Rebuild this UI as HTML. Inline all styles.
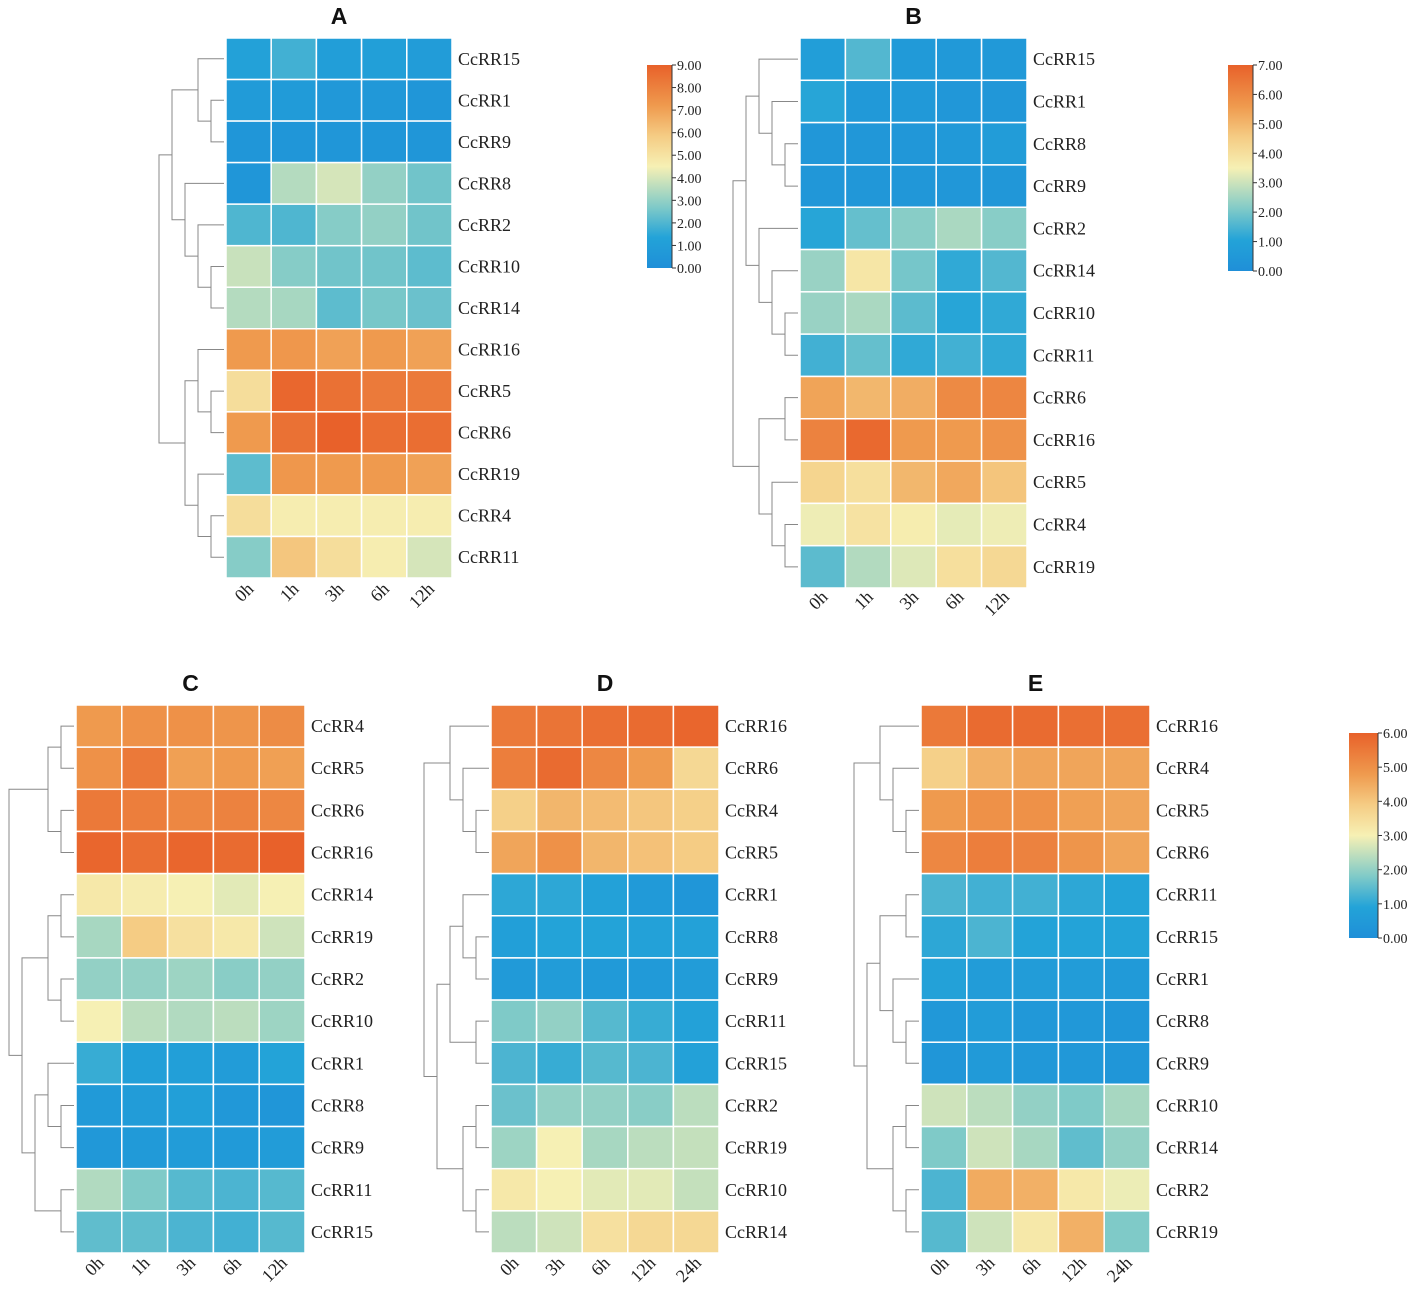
<!DOCTYPE html>
<html><head><meta charset="utf-8">
<style>
html,body{margin:0;padding:0;background:#fff;}
svg{display:block;}
.lbl{font-family:"Liberation Serif",serif;font-size:18px;fill:#222;}
.tick{font-family:"Liberation Serif",serif;font-size:14px;fill:#222;}
.title{font-family:"Liberation Sans",sans-serif;font-size:23px;font-weight:bold;fill:#111;}
</style></head>
<body>
<svg id="fig" width="1417" height="1294" viewBox="0 0 1417 1294" xmlns="http://www.w3.org/2000/svg"></svg>
<script>
// ---- data ----
const rowsA = ["CcRR15","CcRR1","CcRR9","CcRR8","CcRR2","CcRR10","CcRR14","CcRR16","CcRR5","CcRR6","CcRR19","CcRR4","CcRR11"];
const colsA = ["0h","1h","3h","6h","12h"];
const valsA = [[1.2,1.8,1.0,1.1,0.9],[0.8,0.8,0.6,0.6,0.5],[0.5,0.5,0.5,0.5,0.5],[0.5,3.5,4.0,3.0,2.5],[2.0,2.0,2.8,3.0,2.5],[3.8,2.8,2.5,2.5,2.2],[3.5,3.3,2.2,2.6,2.4],[7.2,7.3,7.0,7.2,7.0],[5.2,8.8,8.5,8.2,8.2],[7.2,8.5,9.0,8.6,8.6],[2.2,7.3,7.2,7.2,7.0],[5.2,4.6,4.6,4.6,4.6],[2.8,6.0,5.2,4.6,4.0]];
const ticksA = ["9.00","8.00","7.00","6.00","5.00","4.00","3.00","2.00","1.00","0.00"];

const rowsB = ["CcRR15","CcRR1","CcRR8","CcRR9","CcRR2","CcRR14","CcRR10","CcRR11","CcRR6","CcRR16","CcRR5","CcRR4","CcRR19"];
const colsB = ["0h","1h","3h","6h","12h"];
const valsB = [[0.8,1.6,0.6,0.5,0.5],[1.1,0.5,0.5,0.4,0.4],[0.4,0.4,0.4,0.5,0.7],[0.4,0.4,0.4,0.4,0.4],[1.1,1.8,2.2,2.6,2.2],[2.4,3.8,2.0,1.2,1.6],[2.4,2.6,1.7,1.1,1.2],[1.4,1.8,1.2,1.4,1.2],[5.4,5.0,5.2,6.0,6.1],[6.2,6.8,5.6,5.6,5.8],[4.3,4.0,5.0,5.3,4.7],[3.4,3.9,3.6,3.3,3.4],[1.7,2.7,3.2,4.0,4.2]];
const ticksB = ["7.00","6.00","5.00","4.00","3.00","2.00","1.00","0.00"];

const rowsC = ["CcRR4","CcRR5","CcRR6","CcRR16","CcRR14","CcRR19","CcRR2","CcRR10","CcRR1","CcRR8","CcRR9","CcRR11","CcRR15"];
const colsC = ["0h","1h","3h","6h","12h"];
const valsC = [[4.8,5.0,5.0,4.9,5.1],[5.0,5.5,4.7,4.8,4.7],[5.5,5.4,5.2,5.3,5.2],[5.9,5.7,5.9,5.8,6.0],[3.2,3.1,3.0,2.8,3.0],[2.2,3.9,3.4,3.2,2.6],[2.0,2.0,2.1,1.9,2.0],[3.0,2.4,2.3,2.4,2.1],[1.1,0.7,0.7,0.6,0.9],[0.5,0.6,0.7,0.4,0.3],[0.4,0.5,0.6,0.5,0.6],[2.3,1.8,1.4,1.3,1.4],[1.5,1.5,1.3,1.2,1.4]];

const rowsD = ["CcRR16","CcRR6","CcRR4","CcRR5","CcRR1","CcRR8","CcRR9","CcRR11","CcRR15","CcRR2","CcRR19","CcRR10","CcRR14"];
const colsD = ["0h","3h","6h","12h","24h"];
const valsD = [[5.5,5.6,5.7,5.8,5.9],[5.4,5.8,5.2,4.8,3.6],[3.8,4.3,4.2,4.0,3.8],[4.6,5.0,4.3,4.1,3.9],[1.0,1.0,0.8,0.5,0.3],[0.7,0.9,0.9,0.8,0.8],[0.5,0.6,0.5,0.5,0.6],[1.8,2.0,1.4,1.1,0.8],[1.3,1.1,1.4,1.3,0.8],[1.6,2.0,2.0,1.9,2.4],[2.1,3.0,2.2,2.4,2.5],[3.2,3.0,2.8,2.8,2.5],[2.4,2.6,3.4,3.6,3.6]];

const rowsE = ["CcRR16","CcRR4","CcRR5","CcRR6","CcRR11","CcRR15","CcRR1","CcRR8","CcRR9","CcRR10","CcRR14","CcRR2","CcRR19"];
const colsE = ["0h","3h","6h","12h","24h"];
const valsE = [[5.5,5.8,5.8,5.7,5.7],[3.8,4.4,4.6,4.6,4.6],[4.8,5.0,5.0,4.7,4.6],[5.2,5.4,5.3,4.9,4.6],[1.3,1.2,1.2,1.0,0.9],[1.0,1.3,0.9,0.9,0.9],[0.8,0.6,0.6,0.6,0.5],[0.4,0.6,0.4,0.4,0.3],[0.3,0.5,0.4,0.4,0.3],[2.6,2.4,2.0,1.8,2.2],[1.8,2.6,2.2,1.5,2.0],[1.3,4.5,4.4,3.2,2.9],[1.4,2.6,3.2,4.4,1.8]];
const ticksCDE = ["6.00","5.00","4.00","3.00","2.00","1.00","0.00"];

// dendrogram structures (row indices)
const treeA = [[[0,[1,2]],[3,[4,[5,6]]]],[[7,[8,9]],[10,[11,12]]]];
const treeB = [[[0,[1,[2,3]]],[4,[5,[6,7]]]],[[8,9],[10,[11,12]]]];
const treeC = [[[0,1],[2,3]],[[[4,5],[6,7]],[[8,[9,10]],[11,12]]]];
const treeD = [[0,[1,[2,3]]],[[[4,[5,6]],[7,8]],[[9,10],[11,12]]]];
const treeE = [[0,[1,[2,3]]],[[[4,5],[6,[7,8]]],[[9,10],[11,12]]]];

// ---- drawing ----
const NS="http://www.w3.org/2000/svg";
const svg=document.getElementById('fig');
function mk(tag,attrs,parent){const e=document.createElementNS(NS,tag);for(const k in attrs)e.setAttribute(k,attrs[k]);(parent||svg).appendChild(e);return e;}
const stops=[[0,[31,143,216]],[0.15,[35,163,216]],[0.3,[127,202,200]],[0.5,[246,240,180]],[0.65,[245,204,132]],[0.8,[239,154,78]],[1,[232,97,42]]];
function cmap(t){t=Math.max(0,Math.min(1,t));for(let i=1;i<stops.length;i++){if(t<=stops[i][0]){const a=stops[i-1],b=stops[i];const f=(t-a[0])/(b[0]-a[0]);const c=a[1].map((v,j)=>Math.round(v+(b[1][j]-v)*f));return `rgb(${c[0]},${c[1]},${c[2]})`;}}return 'rgb(232,97,42)';}

function panel(id,title,rows,cols,vals,vmax,x0,y0,w,h,tree,colY){
  const g=mk('g',{});
  
  
  const cw=w/cols.length, rh=h/rows.length;
  const t=mk('text',{x:x0+w/2,y:y0-14,'text-anchor':'middle',class:'title'},g);t.textContent=title;
  
  
  rows.forEach((r,i)=>{
    cols.forEach((c,j)=>{
      const rc=mk('rect',{x:x0+j*cw,y:y0+i*rh,width:cw,height:rh,fill:cmap(vals[i][j]/vmax),stroke:'#fff','stroke-width':1.5},g);
      
      
    });
    const tx=mk('text',{x:x0+w+6,y:y0+(i+0.5)*rh+6,class:'lbl'},g);tx.textContent=r;
    
    
  });
  cols.forEach((c,j)=>{
    const cx=x0+(j+0.5)*cw;
    const tx=mk('text',{x:cx+6,y:colY,class:'lbl','text-anchor':'end',transform:`rotate(-45 ${cx+6} ${colY})`},g);tx.textContent=c;
    
    
  });
  // dendrogram
  const step=13;
  function ht(n){return Array.isArray(n)?1+Math.max(ht(n[0]),ht(n[1])):0;}
  function draw(n){
    if(!Array.isArray(n))return {y:y0+(n+0.5)*rh,x:x0-2};
    const a=draw(n[0]),b=draw(n[1]);
    const x=x0-2-ht(n)*step;
    mk('path',{d:`M${a.x},${a.y}H${x}V${b.y}H${b.x}`,fill:'none',stroke:'#888','stroke-width':1},g);
    return {x:x,y:(a.y+b.y)/2};
  }
  draw(tree);
}
function colorbar(id,x,y,w,h,ticks){
  const g=mk('g',{});
  
  
  const defs=mk('defs',{},g);
  const lg=mk('linearGradient',{id:'gr'+id,x1:0,y1:1,x2:0,y2:0},defs);
  stops.forEach(s=>mk('stop',{offset:s[0],'stop-color':`rgb(${s[1].join(',')})`},lg));
  mk('rect',{x:x,y:y,width:w,height:h,fill:`url(#gr${id})`},g);
  const n=ticks.length-1;
  ticks.forEach((tk,i)=>{
    const ty=y+h*i/n;
    mk('line',{x1:x+w,x2:x+w+4,y1:ty,y2:ty,stroke:'#333'},g);
    const tx=mk('text',{x:x+w+5,y:ty+5,class:'tick'},g);tx.textContent=tk;
    
    
  });
  mk('line',{x1:x+w,x2:x+w,y1:y,y2:y+h,stroke:'#333'},g);
}
panel('a','A',rowsA,colsA,valsA,9,226,38,226,540,treeA,590);
panel('b','B',rowsB,colsB,valsB,7,800,38,227,550,treeB,598);
panel('c','C',rowsC,colsC,valsC,6,76,705,229,548,treeC,1264);
panel('d','D',rowsD,colsD,valsD,6,491,705,228,548,treeD,1264);
panel('e','E',rowsE,colsE,valsE,6,921,705,229,548,treeE,1264);
colorbar('a',647,65,25,203,ticksA);
colorbar('b',1228,65,25,206,ticksB);
colorbar('cde',1349,733,29,205,ticksCDE);
</script>
</body></html>
